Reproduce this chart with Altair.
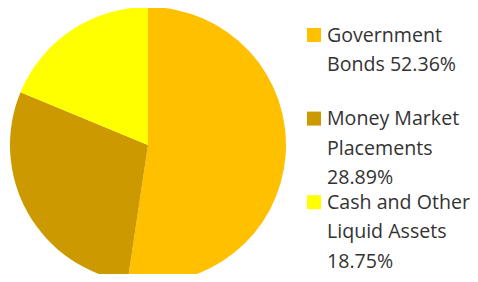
import altair as alt
import pandas as pd

categories = ["Government Bonds", "Money Market Placements", "Cash and Other Liquid Assets"]
shares = [52.36, 28.89, 18.75]
colors = ["#FFC000", "#CC9900", "#FFFF00"]
label_lines = [
    ["Government", "Bonds 52.36%"],
    ["Money Market", "Placements", "28.89%"],
    ["Cash and Other", "Liquid Assets", "18.75%"],
]

pie_df = pd.DataFrame({"category": categories, "share": shares, "order": list(range(len(categories)))})
leg_df = pd.DataFrame({"category": categories, "idx": list(range(len(categories)))})
rows = []
for i, lines in enumerate(label_lines):
    for j, t in enumerate(lines):
        rows.append({"category": categories[i], "idx": i, "line": j, "text": t})
text_df = pd.DataFrame(rows)

color_scale = alt.Scale(domain=categories, range=colors)

pie = alt.Chart(pie_df).mark_arc(radius=138, x=140, y=137).encode(
    theta=alt.Theta("share:Q", stack=True),
    order=alt.Order("order:Q"),
    color=alt.Color("category:N", scale=color_scale, legend=None),
)

squares = alt.Chart(leg_df).mark_square(size=196, x=306, opacity=1).transform_calculate(
    py="27 + datum.idx * 83.6"
).encode(
    y=alt.Y("py:Q", scale=None, axis=None),
    color=alt.Color("category:N", scale=color_scale, legend=None),
)

labels = alt.Chart(text_df).mark_text(
    align="left", baseline="alphabetic", x=319, fontSize=19.6, font="Open Sans", color="#333333"
).transform_calculate(
    py="33.7 + datum.idx * 83.6 + datum.line * 29.5"
).encode(
    y=alt.Y("py:Q", scale=None, axis=None),
    text="text:N",
)

chart = alt.layer(pie, squares, labels).properties(
    width=462, height=266, padding=0, autosize=alt.AutoSizeParams(type="none")
).configure_view(stroke=None)

chart.save("out.html", embed_options={"renderer": "svg", "actions": False})
